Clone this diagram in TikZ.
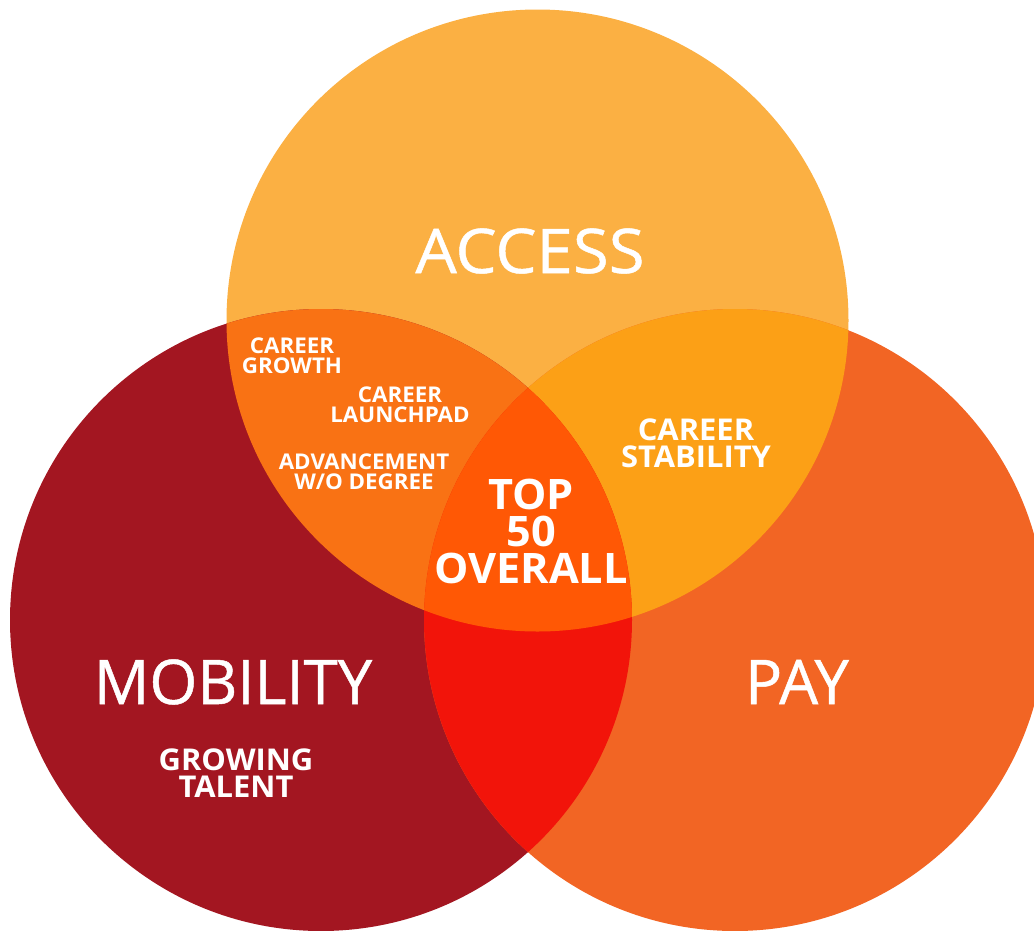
\documentclass[tikz,border=0pt]{standalone}
\usepackage{fontspec}
\setmainfont{Open Sans}
\newfontfamily\headfont{Open Sans}[FakeBold=0.8]
\newfontfamily\wideheadfont{Open Sans}[FakeBold=0.8,FakeStretch=1.06]
\newfontfamily\tagfont{Open Sans Bold}[FakeStretch=1.03]
\definecolor{accessC}{RGB}{251,176,67}
\definecolor{mobilityC}{RGB}{163,22,33}
\definecolor{payC}{RGB}{242,101,36}
\definecolor{amC}{RGB}{249,114,20}
\definecolor{apC}{RGB}{252,160,22}
\definecolor{mpC}{RGB}{242,20,10}
\definecolor{allC}{RGB}{255,88,5}
\tikzset{
  lbl/.style={text=white, inner sep=0pt, anchor=base, align=center},
  big/.style={lbl, font=\headfont\fontsize{61.6}{62}\selectfont},
  tag/.style={lbl, font=\tagfont\fontsize{21.7}{20}\selectfont},
  midtag/.style={lbl, font=\tagfont\fontsize{30}{27}\selectfont},
  toptag/.style={lbl, font=\tagfont\fontsize{42}{37}\selectfont},
}
\begin{document}
\begin{tikzpicture}[x=1pt,y=-1pt]
\useasboundingbox (0,0) rectangle (1034,930);
\def\rad{311}
\coordinate (cA) at (537.5,320.5);
\coordinate (cM) at (321,620);
\coordinate (cP) at (735,620);
% the three circles
\fill[accessC] (cA) circle (\rad);
\fill[mobilityC] (cM) circle (\rad);
\fill[payC] (cP) circle (\rad);
% pairwise overlaps
\begin{scope}
  \clip (cA) circle (\rad);
  \fill[amC] (cM) circle (\rad);
  \fill[apC] (cP) circle (\rad);
\end{scope}
\begin{scope}
  \clip (cM) circle (\rad);
  \fill[mpC] (cP) circle (\rad);
\end{scope}
% triple overlap
\begin{scope}
  \clip (cA) circle (\rad);
  \clip (cM) circle (\rad);
  \fill[allC] (cP) circle (\rad);
\end{scope}
% main labels
\node[big, font=\wideheadfont\fontsize{61.6}{62}\selectfont] (access) at (530,273) {ACCESS};
\node[big] (mobility) at (233,704) {MOBILITY};
\node[big] (pay) at (797,704) {PAY};
% sub labels (anchored on the last baseline)
\node[tag] (growth) at (292,373) {CAREER\\GROWTH};
\node[tag] (launch) at (400,422) {CAREER\\LAUNCHPAD};
\node[tag] (adv) at (364,489) {ADVANCEMENT\\W/O DEGREE};
\node[midtag] (stab) at (696,467) {CAREER\\STABILITY};
\node[midtag] (talent) at (236,797) {GROWING\\TALENT};
\node[toptag] (top) at (531,583) {TOP\\50\\OVERALL};
\end{tikzpicture}
\end{document}
